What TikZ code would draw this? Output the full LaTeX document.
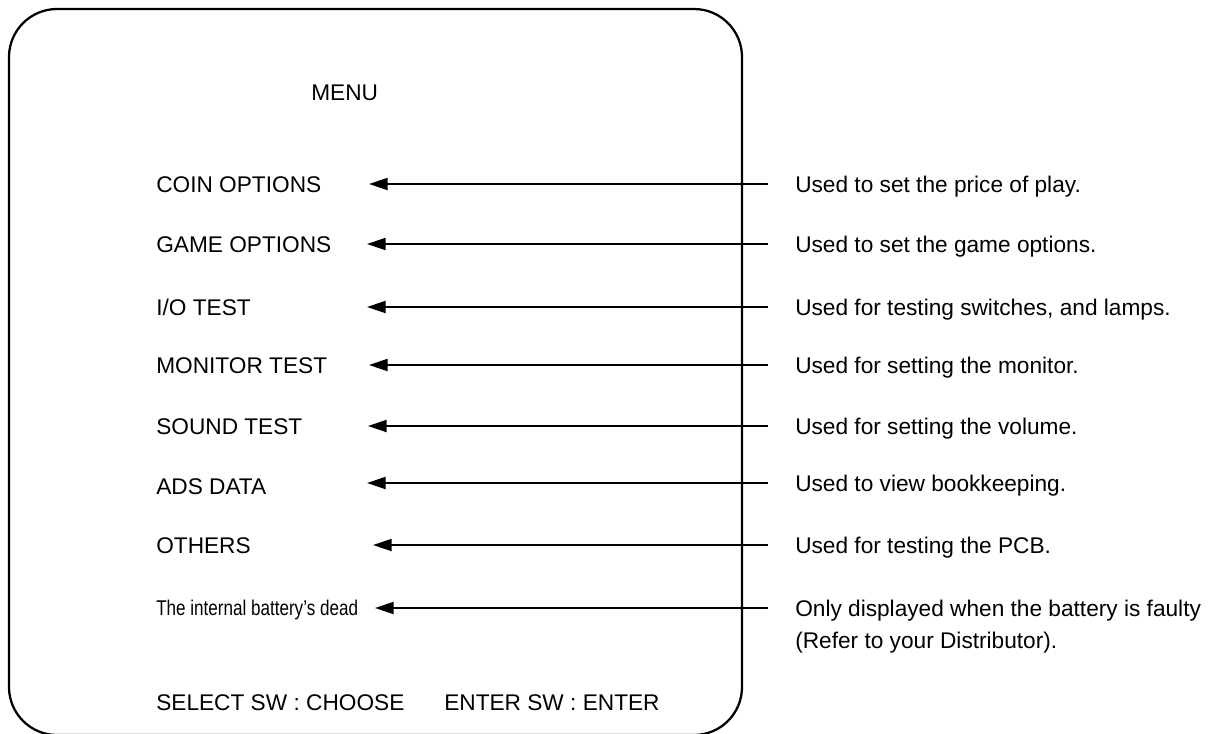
\documentclass[tikz,border=0pt]{standalone}
\usepackage{fontspec}
\setmainfont{Liberation Sans}
\newfontfamily\narrowfont[FakeStretch=0.8]{Liberation Sans}
\usetikzlibrary{arrows.meta}

\tikzset{
  screen/.style={line width=1.7pt,rounded corners=36pt},
  item/.style={anchor=base west,inner sep=0pt,font=\fontsize{17}{24}\selectfont},
  note/.style={item,align=left},
  pointer/.style={line width=1.6pt,-{Triangle[length=14pt,width=9pt]}},
}

\begin{document}
\begin{tikzpicture}[x=0.75pt,y=-0.75pt]
\useasboundingbox (0,0) rectangle (1212,733);
\draw[screen] (9,9) rectangle (742,735);
\node[item] (menu) at (311,100) {MENU};
% menu entries
\node[item] (coin) at (156,192) {COIN OPTIONS};
\node[item] (game) at (156,252) {GAME OPTIONS};
\node[item] (io) at (156,315) {I/O TEST};
\node[item] (monitor) at (156,373) {MONITOR TEST};
\node[item] (sound) at (156,434) {SOUND TEST};
\node[item] (ads) at (156,494) {ADS DATA};
\node[item] (others) at (156,553) {OTHERS};
\node[item,font=\narrowfont\fontsize{16}{24}\selectfont] (battery) at (156,615) {The internal battery’s dead};
\node[item] (select) at (156,710) {SELECT SW : CHOOSE};
\node[item] (enter) at (444,710) {ENTER SW : ENTER};
% explanations
\node[note] (dcoin) at (795,192) {Used to set the price of play.};
\node[note] (dgame) at (795,252) {Used to set the game options.};
\node[note] (dio) at (795,315) {Used for testing switches, and lamps.};
\node[note] (dmonitor) at (795,373) {Used for setting the monitor.};
\node[note] (dsound) at (795,434) {Used for setting the volume.};
\node[note] (dads) at (795,491) {Used to view bookkeeping.};
\node[note] (dothers) at (795,553) {Used for testing the PCB.};
\node[note] (dbattery) at (795,648) {Only displayed when the battery is faulty\\(Refer to your Distributor).};
% arrow ends
\coordinate (rcoin) at (768,184);    \coordinate (tcoin) at (369,184);
\coordinate (rgame) at (768,244);    \coordinate (tgame) at (367,244);
\coordinate (rio) at (768,307);      \coordinate (tio) at (367,307);
\coordinate (rmonitor) at (768,365); \coordinate (tmonitor) at (369,365);
\coordinate (rsound) at (768,426);   \coordinate (tsound) at (368,426);
\coordinate (rads) at (768,483);     \coordinate (tads) at (367,483);
\coordinate (rothers) at (768,545);  \coordinate (tothers) at (373,545);
\coordinate (rbattery) at (768,608); \coordinate (tbattery) at (375,608);
\draw[pointer] (rcoin) -- (tcoin);
\draw[pointer] (rgame) -- (tgame);
\draw[pointer] (rio) -- (tio);
\draw[pointer] (rmonitor) -- (tmonitor);
\draw[pointer] (rsound) -- (tsound);
\draw[pointer] (rads) -- (tads);
\draw[pointer] (rothers) -- (tothers);
\draw[pointer] (rbattery) -- (tbattery);
\end{tikzpicture}
\end{document}
